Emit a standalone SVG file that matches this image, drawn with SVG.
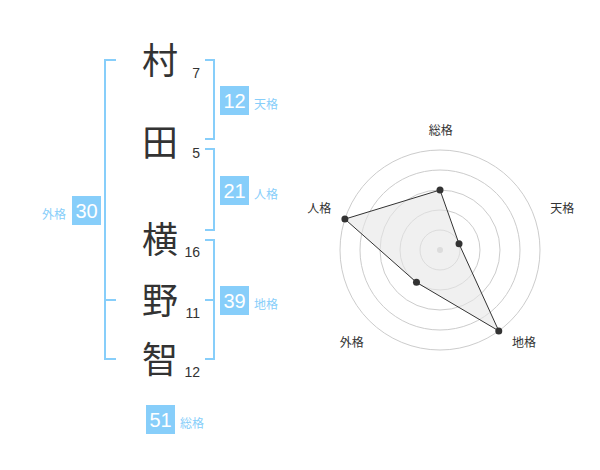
<svg xmlns="http://www.w3.org/2000/svg" width="600" height="470" viewBox="0 0 600 470">
<style>
.ch{font-family:"Noto Sans CJK JP","Noto Sans CJK SC",sans-serif;font-size:36px;fill:#333;text-anchor:middle}
.st{font-family:"Liberation Sans",Arial,sans-serif;font-size:14px;fill:#333;text-anchor:end}
.br{fill:none;stroke:#87cefa;stroke-width:2}
.bx{fill:#87cefa}
.bn{font-family:"Liberation Sans",Arial,sans-serif;font-size:20px;fill:#fff;text-anchor:middle}
.bl{font-family:"Noto Sans CJK JP","Noto Sans CJK SC",sans-serif;font-size:12px;fill:#87cefa}
.grid{fill:none;stroke:#ccc;stroke-width:1}
.rl{font-family:"Noto Sans CJK JP","Noto Sans CJK SC",sans-serif;font-size:12px;fill:#333;text-anchor:middle}
</style>
<rect width="600" height="470" fill="#fff"/>
<g id="name">
<text class="ch" x="160" y="74">村</text>
<text class="ch" x="160" y="156">田</text>
<text class="ch" x="160" y="253">横</text>
<text class="ch" x="160" y="314">野</text>
<text class="ch" x="160" y="373">智</text>
<text class="st" x="200" y="78">7</text>
<text class="st" x="200" y="158">5</text>
<text class="st" x="200" y="257">16</text>
<text class="st" x="200" y="318">11</text>
<text class="st" x="200" y="377">12</text>
</g>
<g id="connectors">
<path class="br" d="M116,60H105V359H116M105,300H116"/>
<path class="br" d="M205,60H214V139H205"/>
<path class="br" d="M205,149H214V230H205"/>
<path class="br" d="M205,240H214V359H205M205,300H214"/>
</g>
<g id="tenkaku">
<rect class="bx" x="220" y="86" width="29" height="29"/>
<text class="bn" x="234.5" y="108">12</text>
<text class="bl" x="254" y="109">天格</text>
</g>
<g id="jinkaku">
<rect class="bx" x="220" y="176" width="29" height="29"/>
<text class="bn" x="234.5" y="198">21</text>
<text class="bl" x="254" y="199">人格</text>
</g>
<g id="gaikaku">
<rect class="bx" x="72" y="196" width="29" height="29"/>
<text class="bn" x="86.5" y="218">30</text>
<text class="bl" x="66" y="219" text-anchor="end">外格</text>
</g>
<g id="chikaku">
<rect class="bx" x="220" y="286" width="29" height="29"/>
<text class="bn" x="234.5" y="308">39</text>
<text class="bl" x="254" y="309">地格</text>
</g>
<g id="soukaku">
<rect class="bx" x="146" y="405" width="29" height="29"/>
<text class="bn" x="160.5" y="427">51</text>
<text class="bl" x="180" y="428">総格</text>
</g>
<g id="radar">
<circle class="grid" cx="440" cy="250" r="20"/>
<circle class="grid" cx="440" cy="250" r="40"/>
<circle class="grid" cx="440" cy="250" r="60"/>
<circle class="grid" cx="440" cy="250" r="80"/>
<circle class="grid" cx="440" cy="250" r="100"/>
<circle cx="440" cy="250" r="3" fill="#ccc"/>
<polygon points="440,190 459.02,243.82 498.78,330.9 416.49,282.36 344.89,219.1" fill="#e6e6e6" fill-opacity="0.6" stroke="#333" stroke-width="1"/>
<g fill="#333">
<circle cx="440" cy="190" r="3.5"/>
<circle cx="459.02" cy="243.82" r="3.5"/>
<circle cx="498.78" cy="330.9" r="3.5"/>
<circle cx="416.49" cy="282.36" r="3.5"/>
<circle cx="344.89" cy="219.1" r="3.5"/>
</g>
<text class="rl" x="440.8" y="135">総格</text>
<text class="rl" x="562.3" y="213">天格</text>
<text class="rl" x="524" y="346.5">地格</text>
<text class="rl" x="351.7" y="346.5">外格</text>
<text class="rl" x="319.2" y="213">人格</text>
</g>
</svg>
